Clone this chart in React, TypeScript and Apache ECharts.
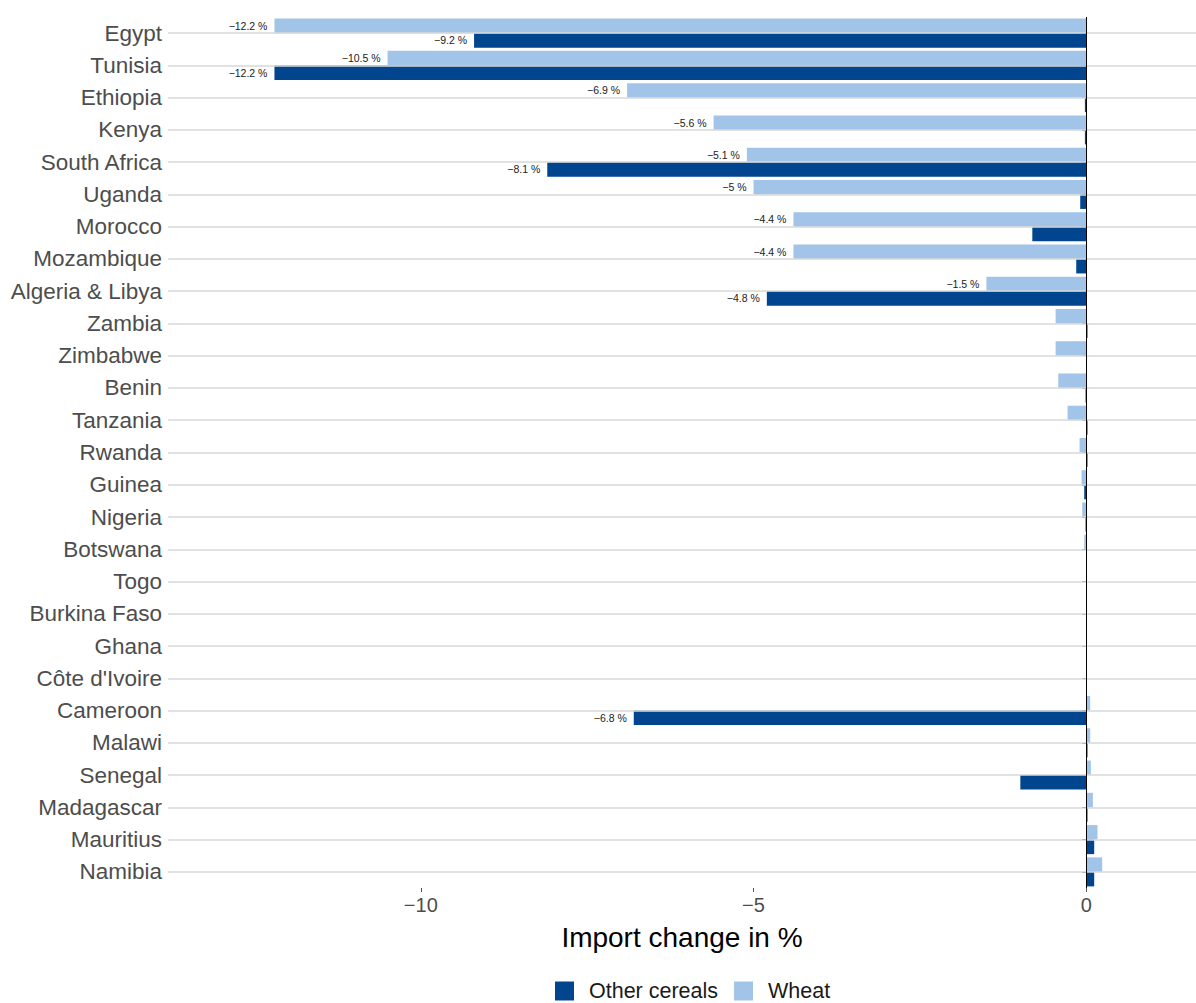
import React, { useEffect, useRef } from "react";
import * as echarts from "echarts";

const countries = [
  "Egypt", "Tunisia", "Ethiopia", "Kenya", "South Africa", "Uganda", "Morocco",
  "Mozambique", "Algeria & Libya", "Zambia", "Zimbabwe", "Benin", "Tanzania",
  "Rwanda", "Guinea", "Nigeria", "Botswana", "Togo", "Burkina Faso", "Ghana",
  "Côte d'Ivoire", "Cameroon", "Malawi", "Senegal", "Madagascar", "Mauritius", "Namibia",
];

const wheat = [
  -12.2, -10.5, -6.9, -5.6, -5.1, -5, -4.4, -4.4, -1.5, -0.46, -0.46, -0.42, -0.28,
  -0.1, -0.07, -0.06, -0.03, 0, 0, 0, 0, 0.06, 0.06, 0.07, 0.1, 0.17, 0.24,
];

const otherCereals = [
  -9.2, -12.2, -0.02, -0.02, -8.1, -0.09, -0.81, -0.15, -4.8, 0.02, 0, -0.01, 0.02,
  0.02, -0.03, -0.01, 0, 0, 0, 0, 0, -6.8, 0.02, -0.99, 0.02, 0.12, 0.12,
];

const xTicks = [-10, -5, 0];

const FONT = "'Liberation Sans', Arial, Helvetica, sans-serif";
const DARK = "#01458F";
const LIGHT = "#A3C4E9";

const fmtPct = (v: number) => `${String(v).replace("-", "\u2212")} %`;

const toItems = (vals: number[]) =>
  vals.map((v) => ({ value: v, label: { show: Math.abs(v) >= 1 } }));

export default function App() {
  const ref = useRef<HTMLDivElement>(null);
  useEffect(() => {
    if (!ref.current) return;
    const chart = echarts.init(ref.current, undefined, { renderer: "svg" });
    const barLabel = {
      position: "left" as const,
      distance: 7,
      fontSize: 10.5,
      color: "#1a1a1a",
      fontFamily: FONT,
      formatter: (p: any) => fmtPct(p.value),
    };
    chart.setOption({
      animation: false,
      backgroundColor: "#ffffff",
      textStyle: { fontFamily: FONT },
      grid: { left: 168, right: 0, top: 17, bottom: 115, containLabel: false },
      legend: {
        data: ["Other cereals", "Wheat"],
        left: 555,
        top: 980,
        padding: 0,
        itemWidth: 19,
        itemHeight: 19,
        itemGap: 16,
        icon: "rect",
        textStyle: {
          fontSize: 21.5,
          lineHeight: 18,
          color: "#1a1a1a",
          fontFamily: FONT,
          padding: [0, 0, 0, 10],
        },
      },
      xAxis: {
        type: "value",
        min: -13.8,
        max: 1.65,
        name: "Import change in %",
        nameLocation: "middle",
        nameGap: 35,
        nameTextStyle: { fontSize: 28, color: "#000000", fontFamily: FONT },
        axisLine: { show: false },
        axisTick: { show: true, length: 4, lineStyle: { color: "#555555" }, customValues: xTicks },
        axisLabel: {
          fontSize: 20,
          color: "#4D4D4D",
          margin: 7,
          fontFamily: FONT,
          customValues: xTicks,
          formatter: (v: number) => String(v).replace("-", "\u2212"),
        },
        splitLine: { show: false },
      },
      yAxis: {
        type: "category",
        inverse: true,
        data: countries,
        axisLine: { show: false },
        axisTick: { show: true, alignWithLabel: true, length: 4, lineStyle: { color: "#555555" } },
        axisLabel: { fontSize: 22.5, color: "#4D4D4D", margin: 6, fontFamily: FONT },
        splitLine: { show: false },
      },
      series: [
        {
          name: "_grid",
          type: "line",
          data: [],
          z: 1,
          silent: true,
          markLine: {
            silent: true,
            symbol: "none",
            label: { show: false },
            lineStyle: { color: "#D9D9D9", width: 1.6, type: "solid" },
            data: countries.map((c) => ({ yAxis: c })),
          },
        },
        {
          name: "Wheat",
          type: "bar",
          z: 2,
          barGap: "0%",
          barCategoryGap: "10%",
          itemStyle: { color: LIGHT },
          label: barLabel,
          data: toItems(wheat),
        },
        {
          name: "Other cereals",
          type: "bar",
          z: 2,
          barGap: "0%",
          barCategoryGap: "10%",
          itemStyle: { color: DARK },
          label: barLabel,
          data: toItems(otherCereals),
        },
        {
          name: "_zero",
          type: "line",
          data: [],
          z: 5,
          silent: true,
          markLine: {
            silent: true,
            symbol: "none",
            label: { show: false },
            lineStyle: { color: "#000000", width: 1, type: "solid" },
            data: [{ xAxis: 0 }],
          },
        },
      ],
    });
    return () => chart.dispose();
  }, []);
  return (
    <div
      ref={ref}
      style={{ position: "fixed", left: 0, top: 0, width: 1196, height: 1003, background: "#fff" }}
    />
  );
}
